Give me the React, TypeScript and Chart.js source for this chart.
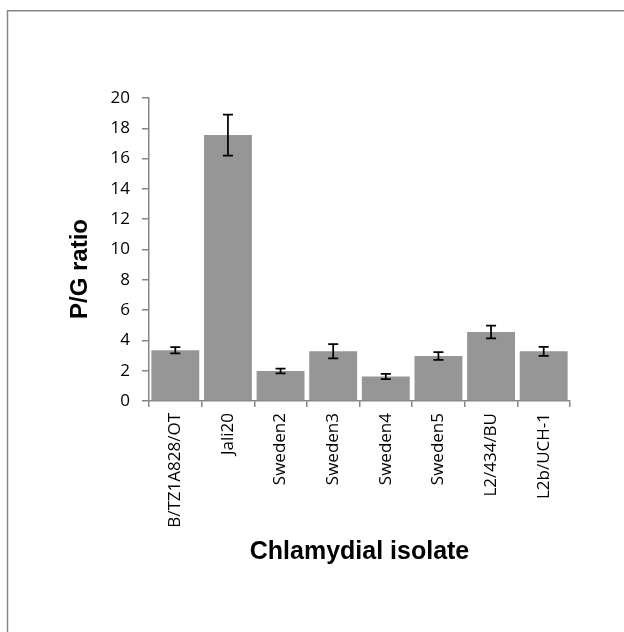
import React, { useEffect, useRef } from "react";
import { Chart, registerables } from "chart.js";

Chart.register(...registerables);

const categories = ["B/TZ1A828/OT", "Jali20", "Sweden2", "Sweden3", "Sweden4", "Sweden5", "L2/434/BU", "L2b/UCH-1"];
const ratioValues = [3.35, 17.55, 1.98, 3.28, 1.62, 2.97, 4.55, 3.28];
const ratioErrors = [0.2, 1.35, 0.15, 0.47, 0.17, 0.25, 0.42, 0.3];
const yMin = 0;
const yMax = 20;
const yStep = 2;
const yAxisTitle = "P/G ratio";
const xAxisTitle = "Chlamydial isolate";

const AXIS = "#868686";
const BAR = "#969696";
const TICK_FONT = { family: "'Open Sans', sans-serif", size: 17 };
const TITLE_FAMILY = "'Liberation Sans', Arial, sans-serif";

const framePlugin = {
  id: "frame",
  beforeDraw(chart: any) {
    const ctx = chart.ctx;
    ctx.save();
    ctx.fillStyle = "#ffffff";
    ctx.fillRect(0, 0, chart.width, chart.height);
    ctx.strokeStyle = AXIS;
    ctx.lineWidth = 1.5;
    ctx.strokeRect(7.5, 10.75, 1000, 1000);
    ctx.restore();
  },
};

const errorBarPlugin = {
  id: "errorBars",
  afterDatasetsDraw(chart: any) {
    const ctx = chart.ctx;
    const yScale = chart.scales.y;
    const meta = chart.getDatasetMeta(0);
    ctx.save();
    ctx.strokeStyle = "#000000";
    ctx.lineWidth = 1.75;
    meta.data.forEach((bar: any, i: number) => {
      const x = bar.x;
      const top = yScale.getPixelForValue(ratioValues[i] + ratioErrors[i]);
      const bot = yScale.getPixelForValue(ratioValues[i] - ratioErrors[i]);
      const cap = 5;
      ctx.beginPath();
      ctx.moveTo(x, top);
      ctx.lineTo(x, bot);
      ctx.moveTo(x - cap, top);
      ctx.lineTo(x + cap, top);
      ctx.moveTo(x - cap, bot);
      ctx.lineTo(x + cap, bot);
      ctx.stroke();
    });
    ctx.restore();
  },
};

const yTitlePlugin = {
  id: "yTitle",
  afterDraw(chart: any) {
    const ctx = chart.ctx;
    ctx.save();
    ctx.translate(80, 269);
    ctx.rotate(-Math.PI / 2);
    ctx.font = `bold 24px ${TITLE_FAMILY}`;
    ctx.fillStyle = "#000000";
    ctx.textAlign = "center";
    ctx.textBaseline = "middle";
    ctx.fillText(yAxisTitle, 0, 0);
    ctx.restore();
  },
};

export default function App() {
  const ref = useRef<HTMLCanvasElement>(null);

  useEffect(() => {
    const canvas = ref.current;
    if (!canvas) return;
    const chart = new Chart(canvas, {
      type: "bar",
      data: {
        labels: categories,
        datasets: [
          {
            data: ratioValues,
            backgroundColor: BAR,
            borderWidth: 0,
            barPercentage: 0.91,
            categoryPercentage: 1,
          },
        ],
      },
      options: {
        animation: false,
        responsive: false,
        maintainAspectRatio: false,
        layout: { padding: { left: 0, right: 54, top: 98, bottom: 61 } },
        plugins: {
          legend: { display: false },
          tooltip: { enabled: false },
        },
        scales: {
          x: {
            grid: { drawOnChartArea: false, tickLength: 6, color: AXIS, lineWidth: 1.5, offset: true },
            border: { color: AXIS, width: 1.5 },
            ticks: {
              autoSkip: false,
              maxRotation: 90,
              minRotation: 90,
              padding: 6,
              color: "#000000",
              font: TICK_FONT,
            },
            title: {
              display: true,
              text: xAxisTitle,
              color: "#000000",
              font: { family: TITLE_FAMILY, size: 25, weight: "bold" },
              padding: { top: 0, bottom: 4 },
            },
            afterFit: (scale: any) => {
              scale.height = 170;
            },
          },
          y: {
            min: yMin,
            max: yMax,
            grid: { drawOnChartArea: false, tickLength: 7, color: AXIS, lineWidth: 1.5 },
            border: { color: AXIS, width: 1.5 },
            ticks: {
              stepSize: yStep,
              padding: 12,
              color: "#000000",
              font: TICK_FONT,
            },
            afterFit: (scale: any) => {
              scale.width = 149;
            },
          },
        },
      },
      plugins: [framePlugin, errorBarPlugin, yTitlePlugin],
    });
    return () => chart.destroy();
  }, []);

  return (
    <div style={{ position: "fixed", left: 0, top: 0, width: 624, height: 632, background: "#ffffff" }}>
      <canvas ref={ref} width={624} height={632} style={{ display: "block" }} />
    </div>
  );
}
